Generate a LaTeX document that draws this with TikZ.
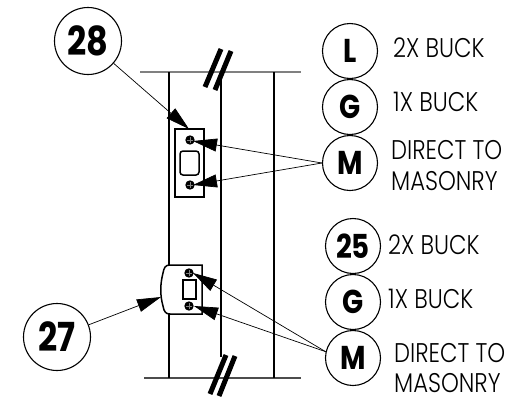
\documentclass[tikz,border=0pt]{standalone}
\usepackage{xcolor}
\usepackage{fontspec}
\setmainfont{Poppins}[FakeStretch=0.84,UprightFont=* Light,BoldFont=* Bold]
\usepackage{tikz}
\usetikzlibrary{arrows.meta}

\begin{document}
\begin{tikzpicture}[x=1pt, y=-1pt,
        bubble/.style={draw, circle, line width=1.1pt, fill=white, inner sep=0pt, minimum size=55pt, font=\bfseries\fontsize{33}{33}\selectfont},
        bigbubble/.style={bubble, minimum size=67pt, font=\bfseries\fontsize{40}{40}\selectfont},
        leader/.style={line width=0.7pt, -{Triangle[length=24pt, width=13pt]}},
        note/.style={anchor=west, inner sep=0pt, font=\fontsize{27}{27}\selectfont},
        frame/.style={line width=1.6pt},
        slash/.style={line width=5pt},
        plate/.style={line width=1.5pt, fill=white}]
        \useasboundingbox (0,0) rectangle (523,400);

        % Wall section
        \draw[gray, line width=1.5pt] (140,72) -- (301,72);
        \draw[black!70, line width=1.5pt] (144,378) -- (301,378);
        \draw[frame] (169,72) -- (169,378);
        \draw[frame] (221,72) -- (221,357);
        \draw[frame] (274,72) -- (274,378);
        \draw[slash] (205,87) -- (221,49);
        \draw[slash] (215,90) -- (231,51);
        \draw[slash] (210,394) -- (226,355);
        \draw[slash] (219,396) -- (235,356);

        % Upper plate
        \draw[plate] (175,129) rectangle (204,197);
        \draw[plate, rounded corners=3pt] (180,151) rectangle (199,175);

        % Lower plate
        \draw[plate] (202,265) -- (170,265) .. controls (165,265) and (164,268) .. (163,273)
            .. controls (160,285) and (160,295) .. (163,306)
            .. controls (164,312) and (166,314) .. (170,314) -- (202,314) -- cycle;
        \draw[plate] (183,280) rectangle (196,299);

        % Screws
        \foreach \sx/\sy in {190/140, 190/185, 189/273, 189/306} {
            \fill (\sx,\sy) circle (4.7pt);
            \draw[gray, line width=0.4pt] (\sx-3,\sy) -- (\sx+3,\sy) (\sx,\sy-3) -- (\sx,\sy+3);
        }

        % Arrow tips
        \coordinate (tip28) at (189,129);
        \coordinate (tip27) at (161,297);
        \coordinate (tipa) at (193,141);
        \coordinate (tipb) at (193,185);
        \coordinate (tipc) at (193,273);
        \coordinate (tipd) at (194,306);

        % Callouts
        \node[bigbubble] (n28) at (88,41) {28};
        \node[bigbubble] (n27) at (57,337) {27};
        \node[bubble] (l1) at (350,51) {L};
        \node[bubble] (g1) at (350,107) {G};
        \node[bubble] (m1) at (350,163) {M};
        \node[bubble] (n25) at (353,246) {25};
        \node[bubble] (g2) at (353,302) {G};
        \node[bubble] (m2) at (353,358) {M};

        \draw[leader] (n28) -- (tip28);
        \draw[leader] (n27) -- (tip27);
        \draw[leader] (m1.west) -- (tipa);
        \draw[leader] (m1.west) -- (tipb);
        \draw[leader] (m2.167) -- (tipc);
        \draw[leader] (m2.167) -- (tipd);

        % Notes
        \node[note] (t1) at (393,48) {2X BUCK};
        \node[note] (t2) at (393,102) {1X BUCK};
        \node[note] (t3) at (391,150) {DIRECT TO};
        \node[note] (t4) at (391,181) {MASONRY};
        \node[note] (t5) at (388,245) {2X BUCK};
        \node[note] (t6) at (388,299) {1X BUCK};
        \node[note] (t7) at (394,353) {DIRECT TO};
        \node[note] (t8) at (394,383) {MASONRY};
    \end{tikzpicture}
\end{document}
